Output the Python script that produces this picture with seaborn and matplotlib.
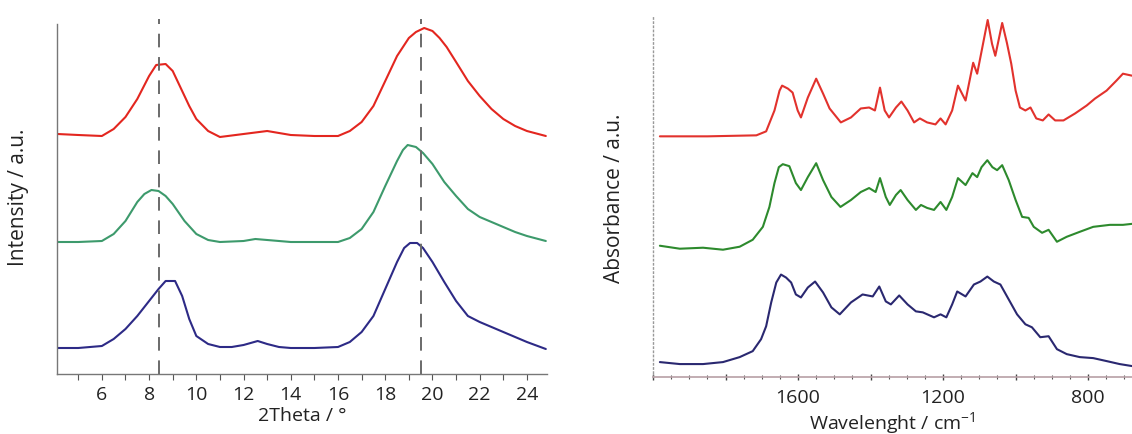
import numpy as np
import pandas as pd
import matplotlib
matplotlib.use("Agg")
import matplotlib.pyplot as plt
import seaborn as sns
from matplotlib.ticker import MultipleLocator

sns.set_style("white")
plt.rcParams['font.family'] = ['Open Sans', 'DejaVu Sans']
plt.rcParams['mathtext.fontset'] = 'custom'
plt.rcParams['mathtext.rm'] = 'Open Sans'
plt.rcParams['mathtext.default'] = 'regular'

# ---------------------------------------------------------------- XRD (left)
xrd_red_x = [4.12, 5, 6, 6.5, 7, 7.5, 8, 8.3, 8.7, 9.0, 9.3, 9.7, 10, 10.5, 11, 12, 13, 14, 15, 16,
             16.5, 17, 17.5, 18, 18.5, 19, 19.3, 19.65, 20.0, 20.3, 20.6, 21, 21.5, 22, 22.5, 23, 23.5, 24, 24.8]
xrd_red_y = [240, 239, 238, 245, 257, 275, 298, 309, 310, 303, 288, 268, 255, 243, 237, 240, 243, 239, 238, 238,
             243, 252, 268, 293, 318, 336, 342, 346, 343, 336, 327, 312, 293, 278, 265, 255, 248, 243, 238]

xrd_green_x = [4.12, 5, 6, 6.5, 7, 7.5, 7.8, 8.1, 8.4, 8.7, 9, 9.5, 10, 10.5, 11, 12, 12.5, 13, 14, 15, 16,
               16.5, 17, 17.5, 18, 18.5, 18.75, 18.95, 19.3, 19.6, 20, 20.5, 21, 21.5, 22, 22.5, 23, 23.5, 24, 24.8]
xrd_green_y = [132, 132, 133, 140, 153, 172, 180, 184, 183, 178, 170, 153, 140, 134, 132, 133, 135, 134, 132, 132, 132,
               136, 145, 162, 188, 213, 224, 229, 227, 221, 210, 192, 178, 165, 157, 152, 147, 142, 138, 133]

xrd_blue_x = [4.12, 5, 6, 6.5, 7, 7.5, 8, 8.4, 8.7, 9.1, 9.4, 9.7, 10, 10.5, 11, 11.5, 12, 12.6, 13, 13.5, 14,
              15, 16, 16.5, 17, 17.5, 18, 18.5, 18.8, 19.05, 19.35, 19.6, 20, 20.5, 21, 21.5, 22, 22.5, 23, 23.5, 24, 24.8]
xrd_blue_y = [26, 26, 28, 35, 45, 58, 73, 85, 93, 93, 78, 55, 38, 30, 27, 27, 29, 33, 30, 27, 26,
              26, 27, 32, 42, 58, 85, 112, 126, 131, 131, 126, 112, 92, 73, 58, 52, 47, 42, 37, 32, 25]

xrd_marks = [8.4, 19.5]
xrd_ticks = [6, 8, 10, 12, 14, 16, 18, 20, 22, 24]

# ---------------------------------------------------------------- FTIR (right)
ir_red_x = [1981, 1850, 1715, 1688, 1665, 1651, 1644, 1628, 1615, 1601, 1592, 1573, 1550, 1531, 1513, 1482, 1454,
            1427, 1404, 1388, 1374, 1361, 1349, 1330, 1315, 1298, 1280, 1264, 1244, 1221, 1207, 1193, 1175, 1159,
            1152, 1138, 1117, 1106, 1092, 1077, 1065, 1056, 1037, 1024, 1012, 1000, 988, 973, 959, 943, 925, 909,
            891, 868, 836, 804, 781, 749, 722, 704, 679]
ir_red_y = [242, 242, 243, 247, 268, 288, 293, 290, 286, 268, 261, 281, 300, 285, 270, 256, 261,
            270, 271, 268, 291, 268, 261, 271, 277, 268, 256, 260, 256, 254, 260, 254, 268, 293,
            288, 278, 316, 305, 331, 359, 335, 323, 356, 336, 315, 288, 271, 268, 271, 260, 258, 264,
            258, 258, 265, 273, 280, 288, 298, 305, 303]

ir_green_x = [1981, 1926, 1862, 1807, 1761, 1725, 1697, 1679, 1665, 1653, 1642, 1624, 1606, 1592, 1573, 1550,
              1531, 1508, 1483, 1454, 1427, 1404, 1386, 1374, 1358, 1347, 1330, 1317, 1298, 1275, 1261, 1244,
              1225, 1207, 1191, 1175, 1159, 1138, 1119, 1106, 1094, 1078, 1064, 1051, 1037, 1019, 1000, 982,
              964, 950, 927, 909, 886, 859, 823, 786, 740, 704, 679]
ir_green_y = [132, 129, 130, 128, 131, 138, 151, 171, 195, 211, 214, 212, 195, 188, 201, 215,
              198, 181, 171, 178, 186, 190, 186, 200, 181, 173, 183, 188, 178, 168, 173, 170,
              168, 176, 168, 181, 200, 193, 205, 201, 211, 218, 211, 208, 213, 198, 178, 161,
              160, 151, 145, 148, 136, 141, 146, 151, 153, 153, 154]

ir_blue_x = [1981, 1926, 1862, 1807, 1761, 1725, 1702, 1688, 1674, 1660, 1647, 1633, 1619, 1606, 1592, 1573,
             1553, 1531, 1508, 1485, 1454, 1422, 1394, 1376, 1358, 1344, 1321, 1298, 1275, 1256, 1225, 1207,
             1191, 1175, 1161, 1138, 1115, 1097, 1078, 1060, 1042, 1019, 996, 973, 955, 932, 909, 886, 859,
             823, 786, 749, 713, 679]
ir_blue_y = [15, 13, 13, 15, 20, 26, 38, 51, 75, 95, 103, 100, 95, 83, 80, 90,
             96, 85, 70, 63, 75, 83, 81, 91, 76, 73, 82, 73, 66, 65, 60, 63,
             60, 73, 86, 81, 93, 96, 101, 96, 93, 78, 63, 53, 50, 40, 41, 28, 23,
             20, 19, 16, 13, 11]

ir_ticks = [2000, 1800, 1600, 1400, 1200, 1000, 800]
ir_labels = ['', '', '1600', '', '1200', '', '800']

fig = plt.figure(figsize=(11.32, 4.35), dpi=100)
ax1 = fig.add_axes([57 / 1132, 60 / 435, 490 / 1132, 355 / 435])
ax2 = fig.add_axes([653 / 1132, 57 / 435, 479 / 1132, 360 / 435])

# left panel
for xs, ys, c in [(xrd_red_x, xrd_red_y, '#e3261f'),
                  (xrd_green_x, xrd_green_y, '#3d9a6c'),
                  (xrd_blue_x, xrd_blue_y, '#2d2a86')]:
    sns.lineplot(x=xs, y=ys, ax=ax1, color=c, lw=1.5, estimator=None)
for m in xrd_marks:
    ax1.axvline(m, color='#6a6a6a', lw=1.4, dashes=(7, 5))
ax1.set_xlim(4.1, 24.85)
ax1.set_ylim(0, 355)
ax1.set_xticks(xrd_ticks)
ax1.xaxis.set_minor_locator(MultipleLocator(1))
ax1.set_yticks([])
ax1.tick_params(axis='x', which='both', direction='out', length=4, width=0.8,
                color='#555555', labelsize=14, labelcolor='#222222', pad=4, bottom=True)
for s in ['top', 'right']:
    ax1.spines[s].set_visible(False)
ax1.spines['left'].set_bounds(0, 350)
for s in ['left', 'bottom']:
    ax1.spines[s].set_color('#777777')
    ax1.spines[s].set_linewidth(1.0)
ax1.set_xlabel('2Theta / °', fontsize=14, color='#222222', labelpad=2)
ax1.set_ylabel('Intensity / a.u.', fontsize=15, color='#222222')
ax1.yaxis.set_label_coords(-0.058, 0.5)

# right panel
for xs, ys, c in [(ir_red_x, ir_red_y, '#e2322d'),
                  (ir_green_x, ir_green_y, '#2d8a2d'),
                  (ir_blue_x, ir_blue_y, '#2a2870')]:
    sns.lineplot(x=xs, y=ys, ax=ax2, color=c, lw=1.5, estimator=None)
ax2.set_xlim(2000, 679)
ax2.set_ylim(0, 362)
ax2.set_xticks(ir_ticks)
ax2.set_xticklabels(ir_labels)
ax2.xaxis.set_minor_locator(MultipleLocator(50))
ax2.set_yticks([])
ax2.tick_params(axis='x', which='major', direction='inout', length=4, width=1.0,
                color='#444444', labelsize=14, labelcolor='#222222', pad=6, bottom=True)
ax2.tick_params(axis='x', which='minor', direction='inout', length=2.5, width=0.8,
                color='#555555', bottom=True)
for s in ['top', 'right']:
    ax2.spines[s].set_visible(False)
ax2.spines['left'].set_color('#999999')
ax2.spines['left'].set_linestyle((0, (1, 2)))
ax2.spines['left'].set_linewidth(1.0)
ax2.spines['bottom'].set_color('#b8a0a6')
ax2.spines['bottom'].set_linewidth(1.2)
ax2.set_xlabel('Wavelenght / cm$^{-1}$', fontsize=14, color='#222222', labelpad=2)
ax2.set_ylabel('Absorbance / a.u.', fontsize=15, color='#222222')
ax2.yaxis.set_label_coords(-0.058, 0.5)

fig.savefig('out.png', dpi=100, facecolor='white')
